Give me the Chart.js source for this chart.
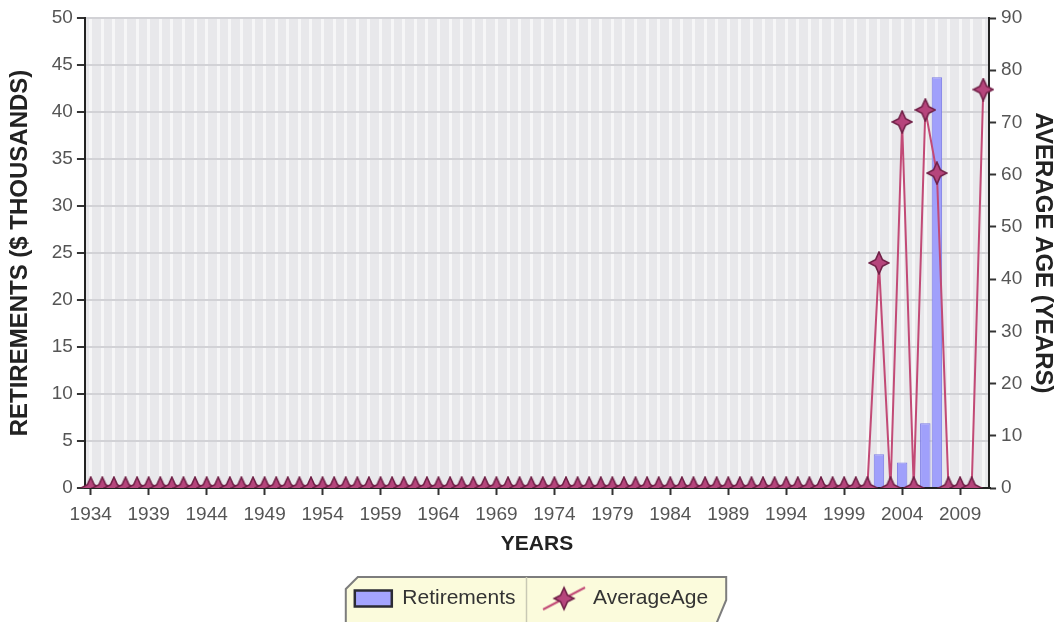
<!DOCTYPE html>
<html lang="en">
<head>
  <meta charset="UTF-8">
  <title>Retirements and Average Age</title>
  <style>
    body{
      margin: 0;
      background: #fff;
    }
    .canvas-con{
      width: 1060px;
      height: 622px;
    }
  </style>
</head>
<body>
  <div class="canvas-con">
    <canvas id="myChart" width="1060" height="622"></canvas>
  </div>

  <script src="https://cdn.jsdelivr.net/npm/chart.js"></script>
  <script>
  const years = [
    '1934','1935','1936','1937','1938','1939','1940','1941','1942','1943',
    '1944','1945','1946','1947','1948','1949','1950','1951','1952','1953',
    '1954','1955','1956','1957','1958','1959','1960','1961','1962','1963',
    '1964','1965','1966','1967','1968','1969','1970','1971','1972','1973',
    '1974','1975','1976','1977','1978','1979','1980','1981','1982','1983',
    '1984','1985','1986','1987','1988','1989','1990','1991','1992','1993',
    '1994','1995','1996','1997','1998','1999','2000','2001','2002','2003',
    '2004','2005','2006','2007','2008','2009','2010','2011'
  ]
  // $ thousands
  const retirements = [
    0,0,0,0,0,0,0,0,0,0,
    0,0,0,0,0,0,0,0,0,0,
    0,0,0,0,0,0,0,0,0,0,
    0,0,0,0,0,0,0,0,0,0,
    0,0,0,0,0,0,0,0,0,0,
    0,0,0,0,0,0,0,0,0,0,
    0,0,0,0,0,0,0,0,3.6,0,
    2.7,0,6.9,43.7,0,0,0,0
  ]
  // years
  const averageAge = [
    0,0,0,0,0,0,0,0,0,0,
    0,0,0,0,0,0,0,0,0,0,
    0,0,0,0,0,0,0,0,0,0,
    0,0,0,0,0,0,0,0,0,0,
    0,0,0,0,0,0,0,0,0,0,
    0,0,0,0,0,0,0,0,0,0,
    0,0,0,0,0,0,0,0,43.1,0,
    70.1,0,72.4,60.3,0,0,0,76.3
  ]
  const leftMax = 50, leftStep = 5
  const rightMax = 90, rightStep = 10

  const lineColor = '#c24a76'

  // 4 point star used as point style
  function makeStar(w, h, rx, ry, withLine) {
    const c = document.createElement('canvas')
    c.width = w
    c.height = h
    const g = c.getContext('2d')
    const cx = w / 2, cy = h / 2, ri = rx * 0.34
    if (withLine) {
      g.strokeStyle = lineColor
      g.lineWidth = 2
      g.beginPath()
      g.moveTo(2, h - 3)
      g.lineTo(w - 2, 3)
      g.stroke()
    }
    g.beginPath()
    g.moveTo(cx, cy - ry)
    g.lineTo(cx + ri, cy - ri)
    g.lineTo(cx + rx, cy)
    g.lineTo(cx + ri, cy + ri)
    g.lineTo(cx, cy + ry)
    g.lineTo(cx - ri, cy + ri)
    g.lineTo(cx - rx, cy)
    g.lineTo(cx - ri, cy - ri)
    g.closePath()
    g.fillStyle = '#b6457c'
    g.fill()
    g.strokeStyle = '#6e1f45'
    g.lineWidth = 1.5
    g.stroke()
    return c
  }
  const starImg = makeStar(22, 24, 10, 11, false)
  const legendStar = makeStar(46, 28, 10, 11, true)

  const bgPlugin = {
    id: 'plot_and_legend_bg',
    beforeDraw: (chart) => {
      const ctx = chart.ctx
      const area = chart.chartArea
      ctx.save()
      ctx.fillStyle = '#e8e8eb'
      ctx.fillRect(area.left, area.top, area.right - area.left, area.bottom - area.top)
      ctx.strokeStyle = '#8c8c8c'
      ctx.lineWidth = 2
      ctx.beginPath()
      ctx.moveTo(area.left, area.top)
      ctx.lineTo(area.right, area.top)
      ctx.stroke()

      const boxes = chart.legend.legendHitBoxes
      if (boxes && boxes.length) {
        const a = boxes[0], b = boxes[boxes.length - 1]
        const x0 = a.left - 9, x1 = b.left + b.width + 18
        const y0 = a.top - 11, y1 = chart.height + 2
        ctx.beginPath()
        ctx.moveTo(x0, y0 + 12)
        ctx.lineTo(x0 + 12, y0)
        ctx.lineTo(x1, y0)
        ctx.lineTo(x1, y1 - 24)
        ctx.lineTo(x1 - 10, y1)
        ctx.lineTo(x0, y1)
        ctx.closePath()
        ctx.fillStyle = '#fbfbdc'
        ctx.fill()
        ctx.strokeStyle = '#7d7d7d'
        ctx.lineWidth = 2
        ctx.stroke()
        const dx = (a.left + a.width + b.left) / 2 - 4
        ctx.strokeStyle = '#c8c8b4'
        ctx.lineWidth = 1.5
        ctx.beginPath()
        ctx.moveTo(dx, y0)
        ctx.lineTo(dx, y1)
        ctx.stroke()
      }
      ctx.restore()
    }
  }

  const tickFont = {family: 'Liberation Sans, Arial, sans-serif', size: 19}
  const titleFont = {family: 'Liberation Sans, Arial, sans-serif', size: 24, weight: 'bold'}

  let myChart = new Chart(document.getElementById('myChart'), {
    type: 'bar',
    data: {
      labels: years,
      datasets: [
        {
          type: 'bar',
          label: 'Retirements',
          data: retirements,
          yAxisID: 'y',
          backgroundColor: '#a0a0fb',
          borderColor: '#7b7be6',
          borderWidth: 1,
          barPercentage: 0.9,
          categoryPercentage: 1,
          order: 2
        },
        {
          type: 'line',
          label: 'AverageAge',
          data: averageAge,
          yAxisID: 'y1',
          borderColor: lineColor,
          borderWidth: 2,
          pointStyle: starImg,
          pointRadius: 10,
          tension: 0,
          clip: {left: 12, top: 12, right: 12, bottom: 0},
          order: 1
        }
      ]
    },
    options: {
      responsive: false,
      animation: false,
      layout: {
        padding: {left: 3, right: 0, top: 18, bottom: 3}
      },
      scales: {
        x: {
          offset: true,
          grid: {
            offset: false,
            color: 'rgba(255,255,255,0.6)',
            lineWidth: 3,
            tickLength: 7,
            tickWidth: 2,
            tickColor: (c) => c.index % 5 === 0 ? '#333' : 'rgba(0,0,0,0)'
          },
          border: {color: '#222', width: 2},
          ticks: {
            autoSkip: false,
            maxRotation: 0,
            padding: 10,
            color: '#555',
            font: {family: 'Liberation Sans, Arial, sans-serif', size: 19, lineHeight: 1},
            callback: function(value, index) {
              return index % 5 === 0 ? this.getLabelForValue(value) : ''
            }
          },
          title: {
            display: true,
            text: 'YEARS',
            color: '#222',
            font: {family: 'Liberation Sans, Arial, sans-serif', size: 21, weight: 'bold', lineHeight: 1},
            padding: {top: 0, bottom: 3}
          }
        },
        y: {
          position: 'left',
          min: 0,
          max: leftMax,
          grid: {
            color: '#d2d2d6',
            lineWidth: 2,
            tickLength: 8,
            tickWidth: 2,
            tickColor: '#333'
          },
          border: {color: '#222', width: 2},
          ticks: {stepSize: leftStep, padding: 4, color: '#555', font: tickFont},
          title: {
            display: true,
            text: 'RETIREMENTS ($ THOUSANDS)',
            color: '#222',
            font: titleFont,
            padding: {top: 3, bottom: 13}
          }
        },
        y1: {
          position: 'right',
          min: 0,
          max: rightMax,
          grid: {
            drawOnChartArea: false,
            tickLength: 7,
            tickWidth: 2,
            tickColor: '#333'
          },
          border: {color: '#222', width: 2},
          ticks: {stepSize: rightStep, padding: 5, color: '#555', font: tickFont},
          title: {
            display: true,
            text: 'AVERAGE AGE (YEARS)',
            color: '#222',
            font: titleFont,
            padding: {top: 3, bottom: 1}
          }
        }
      },
      plugins: {
        tooltip: {enabled: false},
        legend: {
          display: true,
          position: 'bottom',
          labels: {
            usePointStyle: true,
            pointStyleWidth: 37,
            boxHeight: 16,
            padding: 30,
            color: '#333',
            font: {family: 'Liberation Sans, Arial, sans-serif', size: 21},
            generateLabels: (chart) => chart.data.datasets.map((ds, i) => ({
              text: ds.label,
              datasetIndex: i,
              fillStyle: i === 0 ? '#a4a4ff' : lineColor,
              strokeStyle: '#2b2b35',
              lineWidth: 2.5,
              pointStyle: i === 0 ? 'rect' : legendStar,
              fontColor: '#333',
              hidden: false
            })),
            sort: (a, b) => a.datasetIndex - b.datasetIndex
          }
        }
      }
    },
    plugins: [bgPlugin]
  })
  </script>
</body>
</html>
